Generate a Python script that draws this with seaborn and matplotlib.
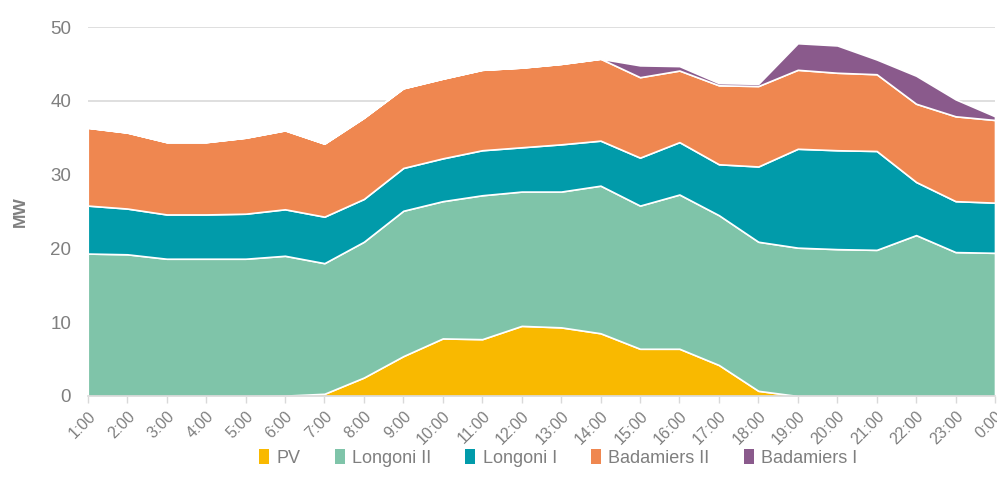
import numpy as np
import pandas as pd
import matplotlib
matplotlib.use('Agg')
import matplotlib.pyplot as plt
import seaborn as sns

# ── Data (MW per hour) ────────────────────────────────────────────────────────
hours = ['1:00', '2:00', '3:00', '4:00', '5:00', '6:00', '7:00', '8:00', '9:00',
         '10:00', '11:00', '12:00', '13:00', '14:00', '15:00', '16:00', '17:00',
         '18:00', '19:00', '20:00', '21:00', '22:00', '23:00', '0:00']
pv = [0, 0, 0, 0, 0, 0.05, 0.3, 2.5, 5.4, 7.8, 7.7, 9.5, 9.3, 8.5, 6.4, 6.4,
      4.2, 0.7, 0, 0, 0, 0, 0, 0]
longoni_ii = [19.3, 19.2, 18.6, 18.6, 18.6, 18.95, 17.7, 18.4, 19.7, 18.6, 19.5,
              18.2, 18.4, 20.0, 19.4, 20.9, 20.3, 20.2, 20.1, 19.9, 19.8, 21.8,
              19.5, 19.4]
longoni_i = [6.5, 6.2, 6.0, 6.0, 6.1, 6.3, 6.3, 5.8, 5.8, 5.8, 6.1, 6.0, 6.4,
             6.1, 6.5, 7.1, 6.9, 10.2, 13.4, 13.4, 13.4, 7.2, 6.9, 6.8]
badamiers_ii = [10.55, 10.3, 9.8, 9.8, 10.3, 10.7, 9.9, 11.0, 10.8, 10.8, 10.9,
                10.8, 10.9, 11.1, 10.9, 9.7, 10.7, 10.9, 10.7, 10.5, 10.4, 10.6,
                11.5, 11.2]
badamiers_i = [0, 0, 0, 0, 0, 0, 0, 0, 0, 0, 0, 0, 0, 0, 1.6, 0.6, 0.3, 0.3,
               3.6, 3.7, 2.0, 3.8, 2.3, 0.5]

series = ['PV', 'Longoni II', 'Longoni I', 'Badamiers II', 'Badamiers I']
colors = ['#F9B900', '#7FC4A9', '#019BAA', '#EF8750', '#8A5A8C']

df = pd.DataFrame({'hour': hours, 'PV': pv, 'Longoni II': longoni_ii,
                   'Longoni I': longoni_i, 'Badamiers II': badamiers_ii,
                   'Badamiers I': badamiers_i})

# ── Figure ────────────────────────────────────────────────────────────────────
sns.set_theme(style='white')
plt.rcParams['font.family'] = ['Liberation Sans Narrow', 'Liberation Sans', 'DejaVu Sans']
grey = '#7F7F7F'

fig = plt.figure(figsize=(9.97, 4.91), dpi=100)
ax = fig.add_axes([0.088, 0.1935, 0.91, 0.7515])

x = np.arange(len(hours))
ax.stackplot(x, *[df[s] for s in series], labels=series, colors=colors,
             edgecolor='white', linewidth=1.2, zorder=2)

ax.set_xlim(0, len(hours) - 1)
ax.set_ylim(0, 50)
ax.set_yticks(range(0, 51, 10))
ax.yaxis.grid(True, color='#D9D9D9', linewidth=1.2, zorder=0)
ax.set_axisbelow(True)
ax.set_xticks(x)
ax.set_xticklabels(hours, rotation=45, ha='right', rotation_mode='anchor')
ax.tick_params(axis='x', labelsize=11.4, length=5, width=1, color='#D9D9D9',
               direction='out', bottom=True, pad=4, labelcolor=grey)
ax.tick_params(axis='y', labelsize=13.5, labelcolor=grey, length=0, pad=12)
ax.set_ylabel('MW', color=grey, fontsize=12.5, fontweight='bold', labelpad=16)

for side in ['top', 'right', 'left']:
    ax.spines[side].set_visible(False)
ax.spines['bottom'].set_color('#D9D9D9')
ax.spines['bottom'].set_linewidth(1.2)
ax.spines['bottom'].set_zorder(3)

leg = fig.legend(loc='center', bbox_to_anchor=(0.56, 0.067), ncol=5,
                 frameon=False, fontsize=13, handlelength=0.55, handleheight=0.9,
                 columnspacing=1.9, handletextpad=0.4)
for t in leg.get_texts():
    t.set_color(grey)
for h in leg.legend_handles:
    h.set_edgecolor('none')

fig.savefig('out.png', dpi=100)
